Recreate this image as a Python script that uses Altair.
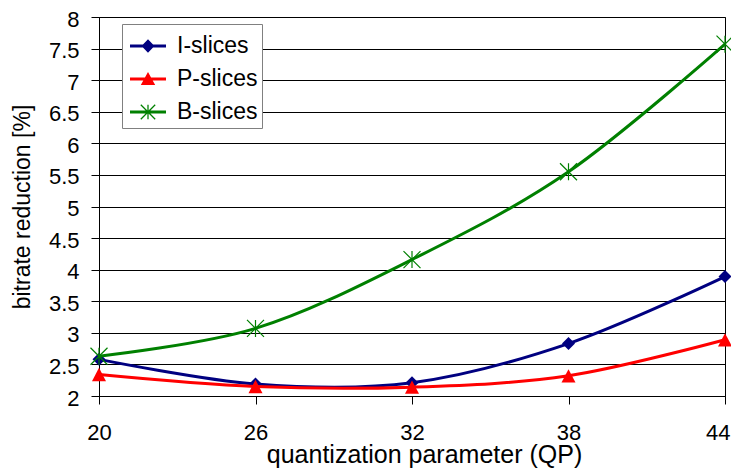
import altair as alt
import pandas as pd

qp = [20, 26, 32, 38, 44]
series_names = ["I-slices", "P-slices", "B-slices"]
i_slices = [2.58, 2.19, 2.21, 2.83, 3.89]
p_slices = [2.34, 2.15, 2.14, 2.32, 2.89]
b_slices = [2.63, 3.07, 4.16, 5.55, 7.57]
colors = ["#000080", "#FF0000", "#008000"]
x_ticks = [20, 26, 32, 38, 44]
y_ticks = [2, 2.5, 3, 3.5, 4, 4.5, 5, 5.5, 6, 6.5, 7, 7.5, 8]

rows = []
for name, vals in zip(series_names, [i_slices, p_slices, b_slices]):
    for q, v in zip(qp, vals):
        rows.append({"qp": q, "series": name, "value": v})
df = pd.DataFrame(rows)

FONT = "Liberation Sans"

x_enc = alt.X("qp:Q", scale=alt.Scale(domain=[20, 44], nice=False, zero=False),
              axis=alt.Axis(values=x_ticks, grid=False, tickSize=8, labelFontSize=22,
                            labelBaseline="alphabetic", labelPadding=35, labelFlush=False,
                            labelAlign={"condition": {"test": "datum.value == 44", "value": "right"},
                                        "value": "center"},
                            labelOffset={"condition": {"test": "datum.value == 44", "value": 5},
                                         "value": 0},
                            title="quantization parameter (QP)", titleFontSize=25,
                            titleFontWeight="normal", titleX=325, titleY=66,
                            titleBaseline="alphabetic"))
y_enc = alt.Y("value:Q", scale=alt.Scale(domain=[2, 8], nice=False, zero=False),
              axis=alt.Axis(values=y_ticks, grid=True, tickSize=8, labelFontSize=22,
                            labelPadding=12, labelOffset=2, labelExpr="datum.value + ''",
                            title="bitrate reduction [%]", titleFontSize=23,
                            titleFontWeight="normal", titleX=-70,
                            titleBaseline="alphabetic"))

# plot marker paths
asterisk_plot = ("M-0.07,-1H0.07V1H-0.07Z "
                 "M-0.95,-1.05L1.05,0.95L0.95,1.05L-1.05,-0.95Z "
                 "M1.05,-0.95L-0.95,1.05L-1.05,0.95L0.95,-1.05Z")
triangle_plot = "M0,-0.95L1,0.95L-1,0.95Z"

# legend symbol paths (line + marker) in [-1,1] box
bar = "M-1,-0.08H1V0.08H-1Z "
leg_diamond = bar + "M0,-0.37L0.36,0L0,0.37L-0.36,0Z"
leg_triangle = bar + "M0,-0.39L0.4,0.33L-0.4,0.33Z"
leg_asterisk = (bar + "M-0.035,-0.4H0.035V0.4H-0.035Z "
                "M-0.375,-0.425L0.425,0.375L0.375,0.425L-0.425,-0.375Z "
                "M0.425,-0.375L-0.375,0.425L-0.425,0.375L0.375,-0.425Z")

base = alt.Chart(df)
layers = []
shapes = ["diamond", triangle_plot, asterisk_plot]
sizes = [169, 196, 289]
for name, col, shp, sz in zip(series_names, colors, shapes, sizes):
    sub = base.transform_filter(alt.datum.series == name)
    layers.append(sub.mark_line(interpolate="cardinal", tension=0, strokeWidth=3, color=col)
                  .encode(x=x_enc, y=y_enc))
    layers.append(sub.mark_point(shape=shp, size=sz, filled=True, color=col, opacity=1,
                                 strokeWidth=0)
                  .encode(x=x_enc, y=y_enc))

leg_props = dict(orient="none", legendX=23, legendY=7, title=None,
                 labelFontSize=23, labelFont=FONT, labelColor="black",
                 symbolSize=1296, symbolStrokeWidth=0, symbolOpacity=1,
                 strokeColor="#808080", fillColor="white",
                 padding=4, rowPadding=3, labelOffset=11, symbolOffset=4)

legend_layer = base.transform_filter("false").mark_point(filled=True, strokeWidth=0, opacity=1).encode(
    x=x_enc, y=y_enc,
    color=alt.Color("series:N", scale=alt.Scale(domain=series_names, range=colors),
                    legend=alt.Legend(**leg_props)),
    shape=alt.Shape("series:N", scale=alt.Scale(domain=series_names,
                                                 range=[leg_diamond, leg_triangle, leg_asterisk]),
                    legend=alt.Legend(**leg_props)),
)
layers.append(legend_layer)

chart = alt.layer(*layers).properties(
    width=626, height=379,
    autosize=alt.AutoSizeParams(type="none"),
    padding={"left": 91, "top": 9, "right": 6, "bottom": 72},
    background="white",
).configure_view(
    stroke="black", strokeWidth=1
).configure_axis(
    domainColor="black", tickColor="black", gridColor="black", gridOpacity=1,
    labelColor="black", titleColor="black", labelFont=FONT, titleFont=FONT,
)

chart.save("out.html", embed_options={"renderer": "svg", "actions": False})
